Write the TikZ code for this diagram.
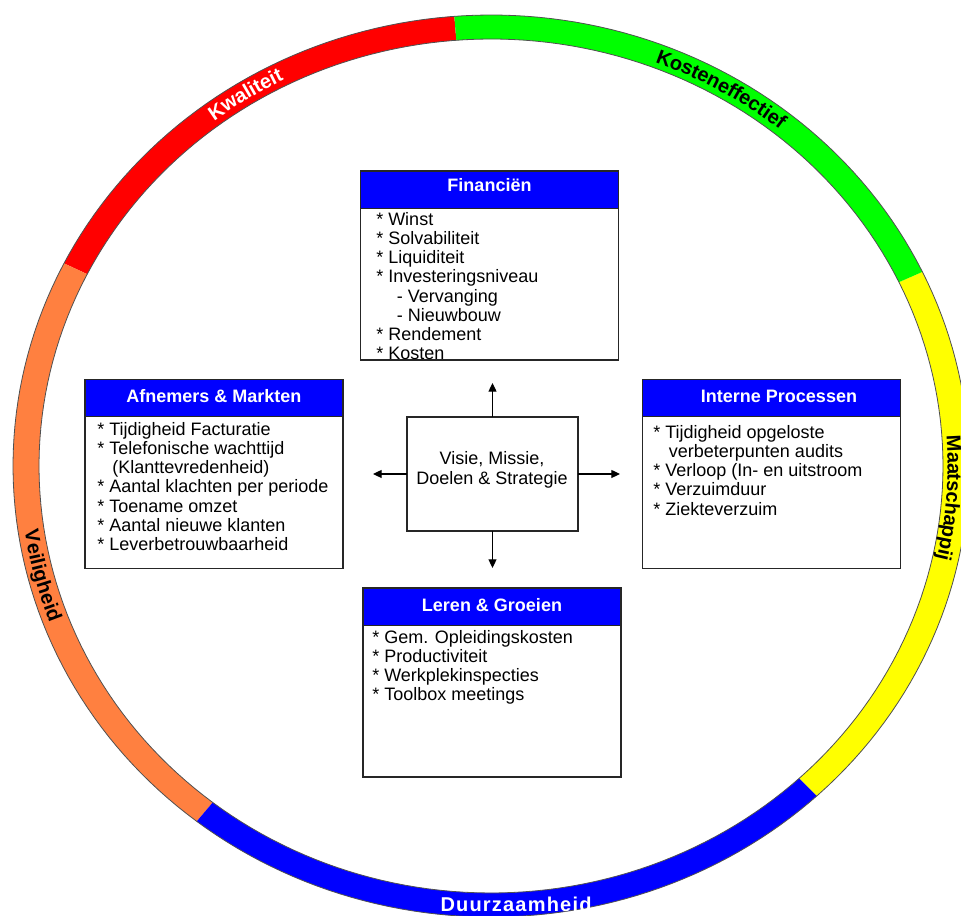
\documentclass[tikz,border=0pt]{standalone}
\usepackage{fontspec}
\setmainfont{Liberation Sans}
\usetikzlibrary{arrows.meta,decorations.text}

\definecolor{ringred}{RGB}{255,0,0}
\definecolor{ringgreen}{RGB}{0,255,0}
\definecolor{ringyellow}{RGB}{255,255,0}
\definecolor{ringblue}{RGB}{0,0,255}
\definecolor{ringorange}{RGB}{255,128,64}
\definecolor{hdrblue}{RGB}{0,0,255}
\definecolor{edgegray}{RGB}{80,80,80}

\newcommand\bodyfont{\fontsize{13.5pt}{14.4pt}\selectfont}
\newcommand\corefont{\fontsize{13.5pt}{15pt}\selectfont}
\newcommand\hdrfont{\fontsize{13.5pt}{16pt}\selectfont\bfseries}
\newcommand\ringfont{\fontsize{15pt}{18pt}\selectfont\bfseries}
\newcommand\firstline{\rule{0pt}{11pt}}

% one coloured piece of the elliptic ring, between two parametric angles
\newcommand\ringseg[3]{%
  \fill[#3] plot[domain=#1:#2,samples=90] ({491+478*cos(\x)},{450+451*sin(\x)})
    -- plot[domain=#2:#1,samples=90] ({491+452*cos(\x)},{450+427*sin(\x)}) -- cycle;}

% a label set along the middle of the ring: start, end, colour, shift, text
\newcommand\ringlabel[5]{%
  \path[decorate,decoration={text along path,text align=center,raise=#4,
      text color=#3,text={|\ringfont|#5}}]
    plot[domain=#1:#2,samples=120] ({491+465*cos(\x)},{450+439*sin(\x)});}

\tikzset{
  panel/.style={draw=black!85,line width=0.8pt,fill=white,minimum width=193.5pt,
    minimum height=141.75pt,inner sep=0pt,outer sep=0pt},
  hdrbar/.style={draw=black!85,line width=0.8pt,fill=hdrblue,minimum width=193.5pt,
    minimum height=28pt,inner sep=0pt,outer sep=0pt,anchor=north},
  hdrtext/.style={font=\hdrfont,text=white,anchor=base,inner sep=0pt},
  bodytext/.style={font=\bodyfont,align=left,anchor=north west,inner sep=0pt},
  corebox/.style={draw=black!85,line width=0.8pt,fill=white,minimum width=128.25pt,
    minimum height=85.5pt,inner sep=0pt,outer sep=0pt},
  coretext/.style={font=\corefont,align=center,anchor=north,inner sep=0pt},
  arr/.style={line width=0.9pt,-{Triangle[length=6.5pt,width=6pt]}},
  ringedge/.style={draw=edgegray,line width=0.6pt}
}

\begin{document}
\begin{tikzpicture}[x=0.75pt,y=0.75pt]
\useasboundingbox (0,0) rectangle (961,916);

% ---- coloured ring ----
\begin{scope}
  \clip (0,0) rectangle (961,916);
  \ringseg{94.4}{153.3}{ringred}
  \ringseg{153.3}{232}{ringorange}
  \ringseg{232}{313}{ringblue}
  \ringseg{313}{385.5}{ringyellow}
  \ringseg{25.5}{94.4}{ringgreen}
  \draw[ringedge] plot[domain=0:360,samples=240] ({491+478*cos(\x)},{450+451*sin(\x)}) -- cycle;
  \draw[ringedge] plot[domain=0:360,samples=240] ({491+452*cos(\x)},{450+427*sin(\x)}) -- cycle;
  \ringlabel{147.2}{97.2}{white}{-4.8pt}{Kwaliteit}
  \ringlabel{89.7}{29.7}{black}{-4.8pt}{Kosteneffectief}
  \ringlabel{25.8}{-34.2}{black}{-6.3pt}{Maatschappij}
  \ringlabel{164.3}{224.3}{black}{-4.8pt}{Veiligheid}
  \node[font=\ringfont,text=white,inner sep=0pt] (duur) at (516,12)
    {\addfontfeature{LetterSpace=6}Duurzaamheid};
\end{scope}

% ---- Financien ----
\node[panel] (fin) at (489.5,650.5) {};
\node[hdrbar] (finH) at (fin.north) {};
\node[hdrtext] (finT) at (489.5,724.3) {Financiën};
\node[bodytext] (finB) at (376,705.7) {\firstline* Winst\\* Solvabiliteit\\* Liquiditeit\\
  * Investeringsniveau\\\hspace*{15.5pt}- Vervanging\\\hspace*{15.5pt}- Nieuwbouw\\
  * Rendement\\* Kosten};

% ---- Afnemers & Markten ----
\node[panel] (afn) at (214,442) {};
\node[hdrbar] (afnH) at (afn.north) {};
\node[hdrtext] (afnT) at (214,513.3) {Afnemers \& Markten};
\node[bodytext] (afnB) at (97,495.7) {\firstline* Tijdigheid Facturatie\\
  * Telefonische wachttijd\\\hspace*{11.25pt}(Klanttevredenheid)\\
  * Aantal klachten per periode\\* Toename omzet\\* Aantal nieuwe klanten\\
  * Leverbetrouwbaarheid};

% ---- Interne Processen ----
\node[panel] (int) at (771.5,442) {};
\node[hdrbar] (intH) at (int.north) {};
\node[hdrtext] (intT) at (779,513.3) {Interne Processen};
\node[bodytext] (intB) at (653,492.7) {\firstline* Tijdigheid opgeloste\\
  \hspace*{11.75pt}verbeterpunten audits\\* Verloop (In- en uitstroom\\
  * Verzuimduur\\* Ziekteverzuim};

% ---- Leren & Groeien ----
\node[panel] (ler) at (492,233.5) {};
\node[hdrbar] (lerH) at (ler.north) {};
\node[hdrtext] (lerT) at (492,304.3) {Leren \& Groeien};
\node[bodytext] (lerB) at (372,287.7) {\firstline* Gem. Opleidingskosten\\
  * Productiviteit\\* Werkplekinspecties\\* Toolbox meetings};

% ---- centre ----
\node[corebox] (core) at (492.5,442) {};
\node[coretext] (coreT) at (492,466.2) {\firstline Visie, Missie,\\Doelen \& Strategie};

\coordinate (tipN) at (492.5,533);
\coordinate (tipS) at (492.5,348);
\coordinate (tipW) at (373,442);
\coordinate (tipE) at (620,442);
\draw[arr] (core.north) -- (tipN);
\draw[arr] (core.south) -- (tipS);
\draw[arr] (core.west) -- (tipW);
\draw[arr] (core.east) -- (tipE);
\end{tikzpicture}
\end{document}
